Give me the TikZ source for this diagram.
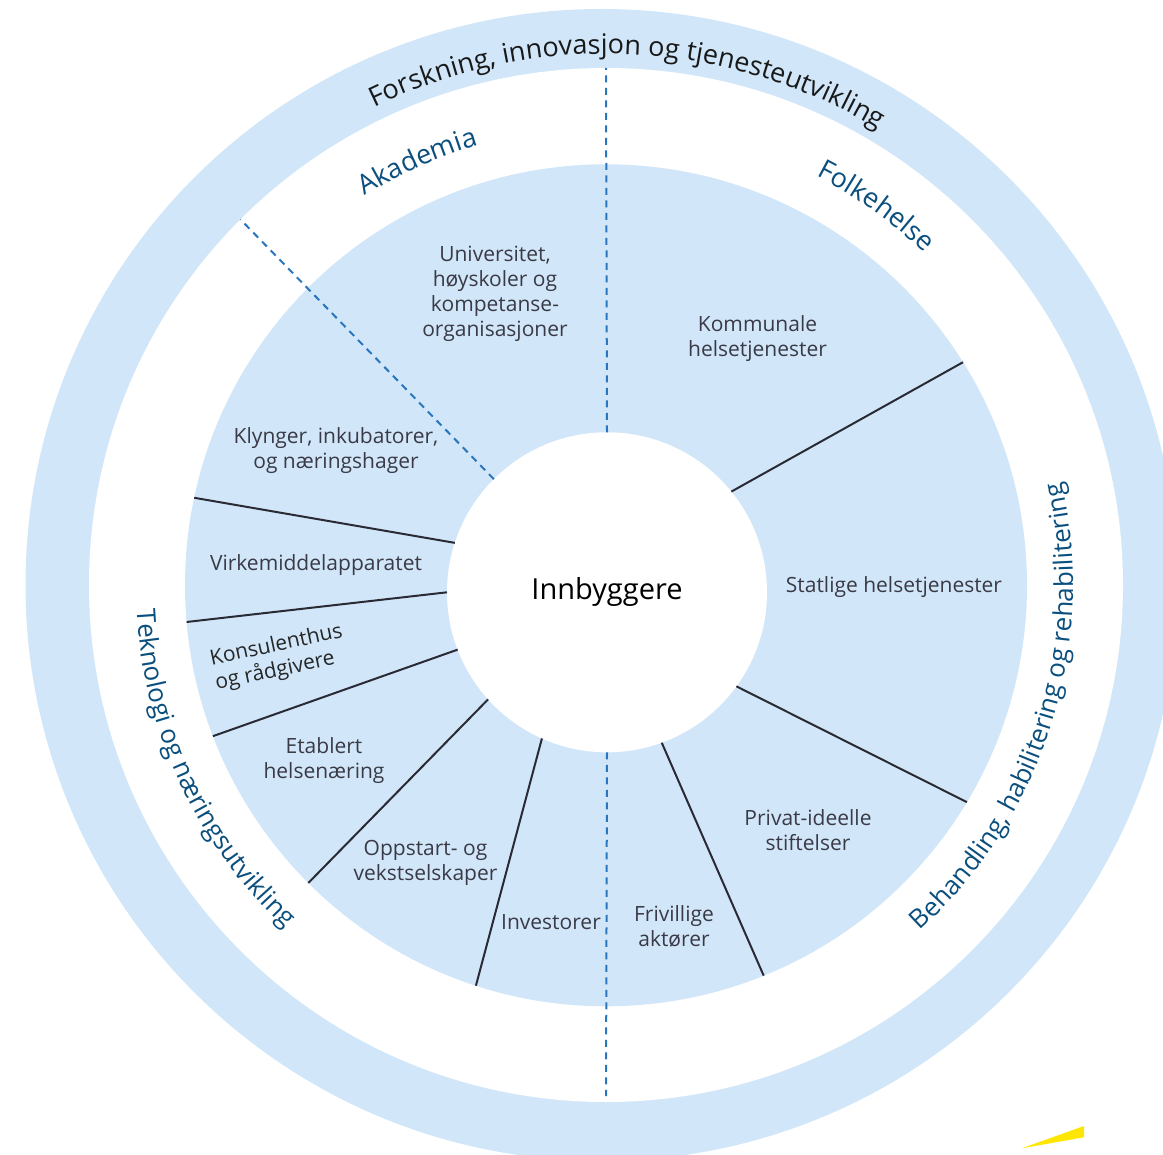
\documentclass[tikz,border=0pt]{standalone}
\usepackage{fontspec}
\setmainfont{Open Sans}
\usetikzlibrary{decorations.text,calc}
\definecolor{ringblue}{HTML}{D1E7F9}
\definecolor{labelblue}{HTML}{0A4F7E}
\definecolor{dashblue}{HTML}{2A76BE}
\definecolor{divider}{HTML}{2A2A35}
\definecolor{bodygrey}{HTML}{3A3A46}
\definecolor{eyyellow}{HTML}{FFE600}

\begin{document}
\begin{tikzpicture}[x=1pt,y=1pt,
  disc/.style={circle, draw=none, inner sep=0pt, outer sep=0pt},
  sector/.style={align=center, text=bodygrey, font=\fontsize{21}{25}\selectfont, inner sep=0pt},
  divline/.style={draw=divider, line width=2pt},
  axisline/.style={draw=dashblue, line width=2pt, dash pattern=on 7pt off 5.5pt},
  ringlabel/.style={decorate, decoration={text along path, text align=center, text color=labelblue}},
  ]
\useasboundingbox (0,0) rectangle (1163,-1155);
\clip (0,0) rectangle (1163,-1155);

% concentric discs
\node[disc, fill=ringblue, minimum size=1152pt] (outer) at (601.5,-585) {};
\node[disc, fill=white, minimum size=1034pt] (ringin) at (606,-585) {};
\node[disc, fill=ringblue, minimum size=842pt] (disk) at (606,-585.3) {};
\node[disc, fill=white, minimum size=320pt, font=\fontsize{29}{34}\selectfont] (core) at (607,-592.3) {Innbyggere};

% sector dividers
\draw[divline] (core.39.2) -- (disk.32.9);
\draw[divline] (core.-36.5) -- (disk.-31.7);
\draw[divline] (core.-70.8) -- (disk.-68.6);
\draw[divline] (core.-114.8) -- (disk.-108.4);
\draw[divline] (core.-138.1) -- (disk.-135.3);
\draw[divline] (core.-159.8) -- (disk.-159.8);
\draw[divline] (core.180) -- (disk.185.2);
\draw[divline] (core.162.3) -- (disk.168.1);

% domain boundaries
\draw[axisline] (core.135) -- (ringin.135);
\draw[axisline] (core.90) -- (ringin.90);
\draw[axisline, shorten >=6pt] (core.-90) -- (ringin.-90);

% ring titles
\path[decorate, decoration={text along path, text align=center, text color=black!90,
  text={|\fontsize{27}{32}\selectfont|Forskning, innovasjon og tjenesteutvikling}}]
  (606,-585) ++(147.5:531) arc[start angle=147.5, end angle=27.5, radius=531];
\path[ringlabel, decoration={text={|\fontsize{27}{32}\selectfont|Akademia}}]
  (606,-585) ++(134:458) arc[start angle=134, end angle=94, radius=458];
\path[ringlabel, decoration={text={|\fontsize{27}{32}\selectfont|Folkehelse}}]
  (606,-585) ++(75:460) arc[start angle=75, end angle=34, radius=460];
\path[ringlabel, decoration={text={|\fontsize{26}{31}\selectfont|Behandling, habilitering og rehabilitering}}]
  (606,-585) ++(-50:467) arc[start angle=-50, end angle=15, radius=467];
\path[ringlabel, decoration={text={|\fontsize{26}{31}\selectfont|Teknologi og næringsutvikling}}]
  (606,-585) ++(180:470) arc[start angle=180, end angle=230, radius=470];

% sector labels
\node[sector] (uni) at (495,-294) {Universitet,\\høyskoler og\\kompetanse-\\organisasjoner};
\node[sector] (klyng) at (336,-451) {Klynger, inkubatorer,\\og næringshager};
\node[sector] (virk) at (316,-565) {Virkemiddelapparatet};
\node[sector, align=left, rotate=12, text=black!85] (kons) at (279,-658) {Konsulenthus\\og rådgivere};
\node[sector] (etab) at (324,-761) {Etablert\\helsenæring};
\node[sector] (opp) at (425.5,-863) {Oppstart- og\\vekstselskaper};
\node[sector] (inv) at (551,-922) {Investorer};
\node[sector] (friv) at (674,-926) {Frivillige\\aktører};
\node[sector] (priv) at (808,-830.5) {Privat-ideelle\\stiftelser};
\node[sector] (statl) at (894,-587) {Statlige helsetjenester};
\node[sector] (komm) at (757.5,-339) {Kommunale\\helsetjenester};

% corner mark
\fill[eyyellow] (1021.7,-1148.3) -- (1084,-1126) -- (1084,-1137.3) -- cycle;
\end{tikzpicture}
\end{document}
